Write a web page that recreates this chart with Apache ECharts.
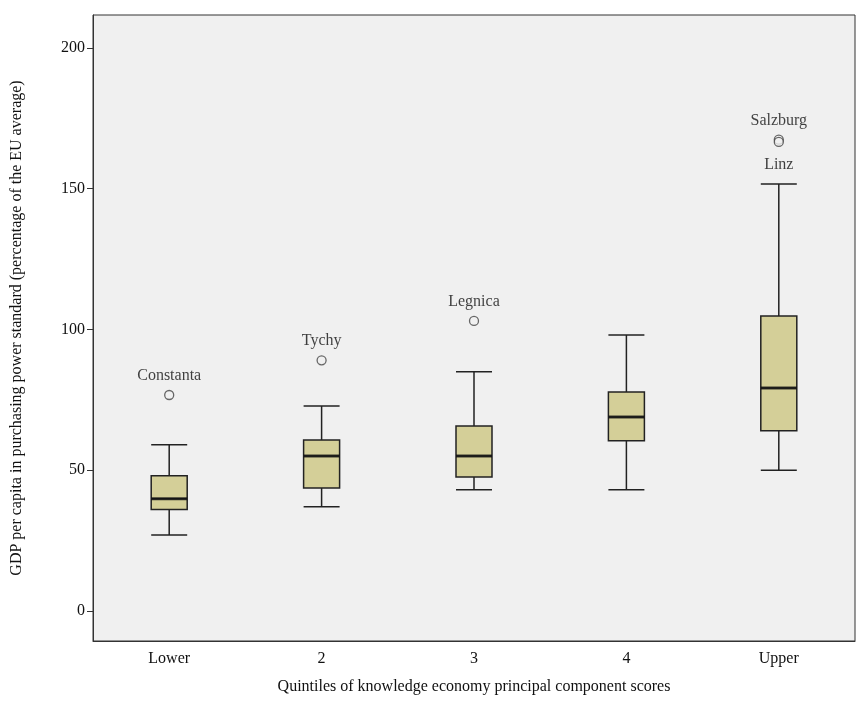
<!DOCTYPE html>
<html><head><meta charset="utf-8">
<script src="https://cdn.jsdelivr.net/npm/echarts@6/dist/echarts.min.js"></script>
<style>html,body{margin:0;background:#fff}#c{width:857px;height:706px}</style>
</head><body><div id="c"></div>
<script>
var categories = ['Lower', '2', '3', '4', 'Upper'];
// [min, Q1, median, Q3, max]
var boxValues = [
  [27, 36, 39.8, 48, 59],
  [37, 43.7, 55, 60.7, 72.8],
  [43, 47.6, 55, 65.7, 85],
  [43, 60.4, 68.9, 77.8, 98],
  [50, 64, 79.2, 104.8, 151.7]
];
// [categoryIndex, value, label, labelPosition]
var outliers = [
  [0, 76.7, 'Constanta', 'top'],
  [1, 89, 'Tychy', 'top'],
  [2, 103, 'Legnica', 'top'],
  [4, 167.4, 'Salzburg', 'top'],
  [4, 166.6, 'Linz', 'bottom']
];
var yTicks = [0, 50, 100, 150, 200];

var font = 'Liberation Serif';
var chart = echarts.init(document.getElementById('c'));
chart.setOption({
  textStyle: { fontFamily: font },
  grid: { left: 93, right: 2, top: 15, bottom: 65, show: true, backgroundColor: '#f0f0f0', borderColor: '#333', borderWidth: 1 },
  xAxis: {
    type: 'category', data: categories,
    name: 'Quintiles of knowledge economy principal component scores',
    nameLocation: 'middle', nameGap: 38,
    nameTextStyle: { fontSize: 16, color: '#111', fontFamily: font },
    axisLine: { onZero: false, lineStyle: { color: '#333' } },
    axisTick: { alignWithLabel: true, length: 6, lineStyle: { color: '#333' } },
    axisLabel: { fontSize: 16, color: '#111', margin: 10 }
  },
  yAxis: {
    type: 'value', min: -10.7, max: 211.7,
    name: 'GDP per capita in purchasing power standard (percentage of the EU average)',
    nameLocation: 'middle', nameGap: 68,
    nameTextStyle: { fontSize: 16, color: '#111', fontFamily: font },
    splitLine: { show: false },
    axisLine: { show: true, lineStyle: { color: '#333' } },
    axisTick: { show: true, length: 6, customValues: yTicks, lineStyle: { color: '#333' } },
    axisLabel: { fontSize: 16, color: '#111', customValues: yTicks }
  },
  series: [{
    type: 'boxplot', data: boxValues, boxWidth: [36, 36],
    itemStyle: { color: '#d4cf98', borderColor: '#222', borderWidth: 1.5 },
    emphasis: { disabled: true }
  }, {
    type: 'scatter', symbol: 'rect', symbolSize: [36, 3], silent: true,
    data: boxValues.map(function (b, i) { return [i, b[2]]; }),
    itemStyle: { color: '#111' }
  }, {
    type: 'scatter', symbol: 'circle', symbolSize: 9,
    data: outliers.map(function (o) {
      return { value: [o[0], o[1]], label: { show: true, formatter: o[2], position: o[3], distance: o[3] === 'top' ? 6 : 10, fontSize: 16, color: '#111', fontFamily: font } };
    }),
    itemStyle: { color: '#f0f0f0', borderColor: '#444', borderWidth: 1.3 }
  }]
});
</script></body></html>
